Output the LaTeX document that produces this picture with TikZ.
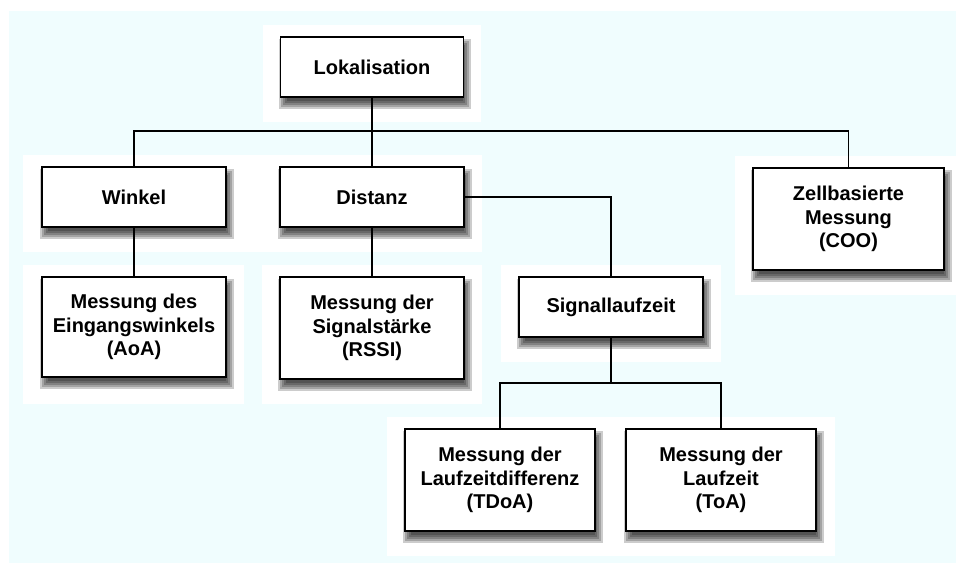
\documentclass[tikz,border=0pt]{standalone}
\usepackage{fontspec}
\setmainfont{Liberation Sans}
\definecolor{bgcyan}{RGB}{240,253,254}
\pgfdeclarelayer{halo}
\pgfdeclarelayer{shade}
\pgfsetlayers{halo,shade,main}

\begin{document}
\begin{tikzpicture}[x=1pt,y=-1pt,
  box/.style={draw=black, line width=1.4pt, fill=white, rectangle, align=center,
    inner sep=0pt, minimum width=184pt, minimum height=60pt,
    font=\fontsize{20}{23.5}\selectfont\bfseries},
  tall/.style={minimum height=102pt},
  link/.style={line width=1.2pt}]
\useasboundingbox (0,0) rectangle (964,563);
\begin{pgfonlayer}{halo}
\fill[bgcyan] (9,11) rectangle (956,563);
% white areas behind the boxes
\fill[white] (263,25) rectangle (481,122);
\fill[white] (23,155) rectangle (482,252);
\fill[white] (735,156) rectangle (962,295);
\fill[white] (23,265) rectangle (244,404);
\fill[white] (262,265) rectangle (482,404);
\fill[white] (501,265) rectangle (721,362);
\fill[white] (387,417) rectangle (835,556);
\end{pgfonlayer}
\coordinate (bus) at (372,131);
\coordinate (fork) at (611,383);
\node[box, minimum width=183pt] (lok) at (372,67) {Lokalisation};
\node[box] (winkel) at (134,197) {Winkel};
\node[box] (distanz) at (372,197) {Distanz};
\node[box, tall, minimum width=191pt] (zell) at (848.5,219) {Zellbasierte\\Messung\\(COO)};
\node[box, minimum height=100pt] (aoa) at (134,327) {Messung des\\Eingangswinkels\\(AoA)};
\node[box, tall] (rssi) at (372,328) {Messung der\\Signalstärke\\(RSSI)};
\node[box] (signal) at (611,307) {Signallaufzeit};
\node[box, tall, minimum width=190pt] (tdoa) at (500,480) {Messung der\\Laufzeitdifferenz\\(TDoA)};
\node[box, tall, minimum width=190pt] (toa) at (721,480) {Messung der\\Laufzeit\\(ToA)};
% soft shadows
\begin{pgfonlayer}{shade}
\foreach \n in {lok,winkel,distanz,zell,aoa,rssi,signal,tdoa,toa}
  \foreach \k in {0,1,2,3,4}
    \fill[black, opacity=0.2]
      ([xshift=7pt-\k*2pt, yshift=-3pt-\k*2pt]\n.south west) rectangle
      ([xshift=\k*2pt-1pt, yshift=-11pt+\k*2pt]\n.north east);
\end{pgfonlayer}
\draw[link] (lok.south) -- (bus);
\draw[link] (winkel.north) |- (bus) -| (zell.north);
\draw[link] (bus) -- (distanz.north);
\draw[link] (winkel) -- (aoa);
\draw[link] (distanz) -- (rssi);
\draw[link] (distanz.east) -| (signal.north);
\draw[link] (signal.south) -- (fork);
\draw[link] (tdoa.north) |- (fork) -| (toa.north);
\end{tikzpicture}
\end{document}
